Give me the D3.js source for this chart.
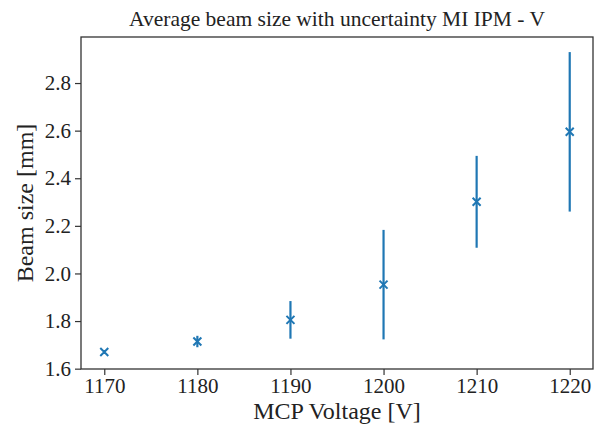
<!DOCTYPE html>
<html>
<head>
<meta charset="utf-8">
<script src="https://cdn.jsdelivr.net/npm/d3@7"></script>
<style>
  body { margin: 0; background: #fff; }
  svg text { font-family: "Liberation Serif", "Times New Roman", Times, serif; }
</style>
</head>
<body>
<div id="chart"></div>
<script>
// data
const voltages = [1170, 1180, 1190, 1200, 1210, 1220];
const beamSize = [1.670, 1.714, 1.805, 1.953, 2.301, 2.595];
const uncertainty = [0.008, 0.024, 0.079, 0.230, 0.193, 0.335];
const xTicks = [1170, 1180, 1190, 1200, 1210, 1220];
const yTicks = [1.6, 1.8, 2.0, 2.2, 2.4, 2.6, 2.8];

const serif = "Liberation Serif, Times New Roman, Times, serif";
const svgWidth = 599;
const svgHeight = 429;
const margin = { top: 37, right: 6, bottom: 60, left: 81 };
const width = svgWidth - margin.left - margin.right;
const height = svgHeight - margin.top - margin.bottom;
const blue = "#1f77b4";

const svg = d3.select("#chart").append("svg")
  .attr("width", svgWidth)
  .attr("height", svgHeight)
  .attr("font-family", serif);

// matplotlib style 5% margins
const xMin = d3.min(voltages), xMax = d3.max(voltages);
const xPad = (xMax - xMin) * 0.05;
const lows = beamSize.map((d, i) => d - uncertainty[i]);
const highs = beamSize.map((d, i) => d + uncertainty[i]);
const yMin = d3.min(lows), yMax = d3.max(highs);
const yPad = (yMax - yMin) * 0.05;

const xScale = d3.scaleLinear()
  .domain([xMin - xPad, xMax + xPad])
  .range([0, width]);

const yScale = d3.scaleLinear()
  .domain([yMin - yPad, yMax + yPad])
  .range([height, 0]);

const chart = svg.append("g")
  .attr("transform", "translate(" + margin.left + "," + margin.top + ")");

const xAxis = chart.append("g")
  .attr("transform", "translate(0," + height + ")")
  .call(d3.axisBottom(xScale).tickValues(xTicks).tickFormat(d3.format("d"))
    .tickSizeOuter(0).tickSize(6).tickPadding(3));

const yAxis = chart.append("g")
  .call(d3.axisLeft(yScale).tickValues(yTicks).tickFormat(d3.format(".1f"))
    .tickSizeOuter(0).tickSize(6).tickPadding(4));

[xAxis, yAxis].forEach(ax => {
  ax.attr("font-family", serif).attr("font-size", 21);
  ax.select(".domain").remove();
  ax.selectAll("line").attr("stroke", "#333").attr("stroke-width", 1.2);
  ax.selectAll("text").attr("fill", "#222");
});

// frame
chart.append("rect")
  .attr("width", width)
  .attr("height", height)
  .attr("fill", "none")
  .attr("stroke", "#333")
  .attr("stroke-width", 1.3);

// error bars
chart.selectAll(".err")
  .data(voltages)
  .enter()
  .append("line")
  .attr("class", "err")
  .attr("x1", d => xScale(d))
  .attr("x2", d => xScale(d))
  .attr("y1", (d, i) => yScale(lows[i]))
  .attr("y2", (d, i) => yScale(highs[i]))
  .attr("stroke", blue)
  .attr("stroke-width", 2.2);

// x markers
const s = 4;
chart.selectAll(".mark")
  .data(voltages)
  .enter()
  .append("path")
  .attr("class", "mark")
  .attr("d", (d, i) => {
    const cx = xScale(d), cy = yScale(beamSize[i]);
    return "M" + (cx - s) + "," + (cy - s) + "L" + (cx + s) + "," + (cy + s) +
      "M" + (cx - s) + "," + (cy + s) + "L" + (cx + s) + "," + (cy - s);
  })
  .attr("stroke", blue)
  .attr("stroke-width", 2)
  .attr("fill", "none");

// title and labels
svg.append("text")
  .attr("x", margin.left + width / 2)
  .attr("y", 26)
  .attr("text-anchor", "middle")
  .attr("fill", "#222")
  .attr("font-size", 21.5)
  .text("Average beam size with uncertainty MI IPM - V");

svg.append("text")
  .attr("x", margin.left + width / 2)
  .attr("y", 419)
  .attr("text-anchor", "middle")
  .attr("fill", "#222")
  .attr("font-size", 24)
  .text("MCP Voltage [V]");

svg.append("text")
  .attr("transform", "translate(33," + (margin.top + height / 2) + ") rotate(-90)")
  .attr("text-anchor", "middle")
  .attr("fill", "#222")
  .attr("font-size", 24)
  .text("Beam size [mm]");
</script>
</body>
</html>
